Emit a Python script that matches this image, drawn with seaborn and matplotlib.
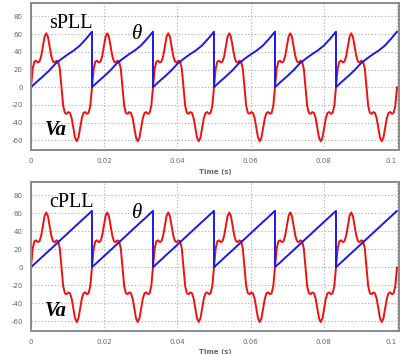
import numpy as np
import pandas as pd
import matplotlib
matplotlib.use("Agg")
import matplotlib.pyplot as plt
import seaborn as sns

# ---------------- data ----------------
# Va sampled every 10 electrical degrees (60 Hz), 6 cycles over 0..0.1 s
va_values = [
    0, 21, 29, 30, 28, 29, 35, 46, 57, 61, 57, 46, 35, 29, 28, 30, 29, 21,
    0, -21, -29, -30, -28, -29, -35, -46, -57, -61, -57, -46, -35, -29, -28, -30, -29, -21,
    0, 21, 29, 30, 28, 29, 35, 46, 57, 61, 57, 46, 35, 29, 28, 30, 29, 21,
    0, -21, -29, -30, -28, -29, -35, -46, -57, -61, -57, -46, -35, -29, -28, -30, -29, -21,
    0, 21, 29, 30, 28, 29, 35, 46, 57, 61, 57, 46, 35, 29, 28, 30, 29, 21,
    0, -21, -29, -30, -28, -29, -35, -46, -57, -61, -57, -46, -35, -29, -28, -30, -29, -21,
    0, 21, 29, 30, 28, 29, 35, 46, 57, 61, 57, 46, 35, 29, 28, 30, 29, 21,
    0, -21, -29, -30, -28, -29, -35, -46, -57, -61, -57, -46, -35, -29, -28, -30, -29, -21,
    0, 21, 29, 30, 28, 29, 35, 46, 57, 61, 57, 46, 35, 29, 28, 30, 29, 21,
    0, -21, -29, -30, -28, -29, -35, -46, -57, -61, -57, -46, -35, -29, -28, -30, -29, -21,
    0, 21, 29, 30, 28, 29, 35, 46, 57, 61, 57, 46, 35, 29, 28, 30, 29, 21,
    0, -21, -29, -30, -28, -29, -35, -46, -57, -61, -57, -46, -35, -29, -28, -30, -29, -21,
    0,
]
va_sample_step_s = 1.0 / 60.0 / 36.0

# theta knots (time in s); the sawtooth wraps at the end of each cycle
theta_time = [
    0.0, 0.001667, 0.003333, 0.005, 0.006667, 0.008333, 0.01, 0.011667, 0.013333, 0.015, 0.016667,
    0.016667, 0.018333, 0.02, 0.021667, 0.023333, 0.025, 0.026667, 0.028333, 0.03, 0.031667, 0.033333,
    0.033333, 0.035, 0.036667, 0.038333, 0.04, 0.041667, 0.043333, 0.045, 0.046667, 0.048333, 0.05,
    0.05, 0.051667, 0.053333, 0.055, 0.056667, 0.058333, 0.06, 0.061667, 0.063333, 0.065, 0.066667,
    0.066667, 0.068333, 0.07, 0.071667, 0.073333, 0.075, 0.076667, 0.078333, 0.08, 0.081667, 0.083333,
    0.083333, 0.085, 0.086667, 0.088333, 0.09, 0.091667, 0.093333, 0.095, 0.096667, 0.098333, 0.1,
]
theta_spll = [
    0, 6.5, 12.5, 19, 26.5, 32, 37, 41.5, 47, 54.5, 62.8,
    0, 6.5, 12.5, 19, 26.5, 32, 37, 41.5, 47, 54.5, 62.8,
    0, 6.5, 12.5, 19, 26.5, 32, 37, 41.5, 47, 54.5, 62.8,
    0, 6.5, 12.5, 19, 26.5, 32, 37, 41.5, 47, 54.5, 62.8,
    0, 6.5, 12.5, 19, 26.5, 32, 37, 41.5, 47, 54.5, 62.8,
    0, 6.5, 12.5, 19, 26.5, 32, 37, 41.5, 47, 54.5, 62.8,
]
theta_cpll = [
    0, 6.3, 12.6, 18.8, 25.1, 31.4, 37.7, 44.0, 50.3, 56.5, 62.8,
    0, 6.3, 12.6, 18.8, 25.1, 31.4, 37.7, 44.0, 50.3, 56.5, 62.8,
    0, 6.3, 12.6, 18.8, 25.1, 31.4, 37.7, 44.0, 50.3, 56.5, 62.8,
    0, 6.3, 12.6, 18.8, 25.1, 31.4, 37.7, 44.0, 50.3, 56.5, 62.8,
    0, 6.3, 12.6, 18.8, 25.1, 31.4, 37.7, 44.0, 50.3, 56.5, 62.8,
    0, 6.3, 12.6, 18.8, 25.1, 31.4, 37.7, 44.0, 50.3, 56.5, 62.8,
]

x_ticks = [0, 0.02, 0.04, 0.06, 0.08, 0.1]
x_tick_labels = ["0", "0.02", "0.04", "0.06", "0.08", "0.1"]
y_ticks = [-60, -40, -20, 0, 20, 40, 60, 80]
panel_names = ["sPLL", "cPLL"]

# ---------------- build tables ----------------
va_df = pd.DataFrame({"t": np.arange(len(va_values)) * va_sample_step_s, "v": va_values})
theta_dfs = [
    pd.DataFrame({"t": theta_time, "v": theta_spll}),
    pd.DataFrame({"t": theta_time, "v": theta_cpll}),
]

sns.set_style("white")
plt.rcParams["font.family"] = ["DejaVu Sans"]

fig = plt.figure(figsize=(4.0, 3.54), dpi=100)
ax_top = fig.add_axes([0.0775, 0.576, 0.92, 0.415])
ax_bot = fig.add_axes([0.0775, 0.065, 0.92, 0.421])

red = "#ee1111"
blue = "#1a1ae6"
grid_c = "#b4b4b4"
frame_c = "#8a8a8a"
tick_c = "#666666"

for ax, tdf, name in zip([ax_top, ax_bot], theta_dfs, panel_names):
    sns.lineplot(data=va_df, x="t", y="v", ax=ax, color=red, lw=1.4,
                 sort=False, estimator=None)
    sns.lineplot(data=tdf, x="t", y="v", ax=ax, color=blue, lw=1.4,
                 sort=False, estimator=None)
    ax.set_xlim(0, 0.10055)
    ax.set_ylim(-71, 95)
    ax.set_xticks(x_ticks)
    ax.set_xticklabels(x_tick_labels)
    ax.set_yticks(y_ticks)
    ax.set_yticklabels([str(v) for v in y_ticks])
    ax.tick_params(axis="both", length=0, labelsize=5, labelcolor=tick_c)
    ax.tick_params(axis="x", pad=6)
    ax.tick_params(axis="y", pad=6)
    last = ax.get_xticklabels()[-1]
    last.set_horizontalalignment("right")
    ax.set_axisbelow(True)
    ax.grid(True, linestyle=(0, (1.2, 1.8)), color=grid_c, linewidth=0.8)
    for s in ax.spines.values():
        s.set_color(frame_c)
        s.set_linewidth(1.4)
        s.set_visible(True)
    ax.set_xlabel("Time (s)", fontsize=5, color=tick_c, fontweight="bold", labelpad=3)
    ax.set_ylabel("")
    ax.text(0.0050, 67, name, fontsize=14.5, family="Liberation Serif",
            ha="left", va="baseline", color="black")
    ax.text(0.0277, 55, "\u03b8", fontsize=15, family="Liberation Serif",
            style="italic", ha="left", va="baseline", color="black")
    ax.text(0.0037, -54.5, "Va", fontsize=15, family="Liberation Serif",
            fontweight="bold", style="italic", ha="left", va="baseline", color="black")

fig.savefig("out.png", dpi=100)
